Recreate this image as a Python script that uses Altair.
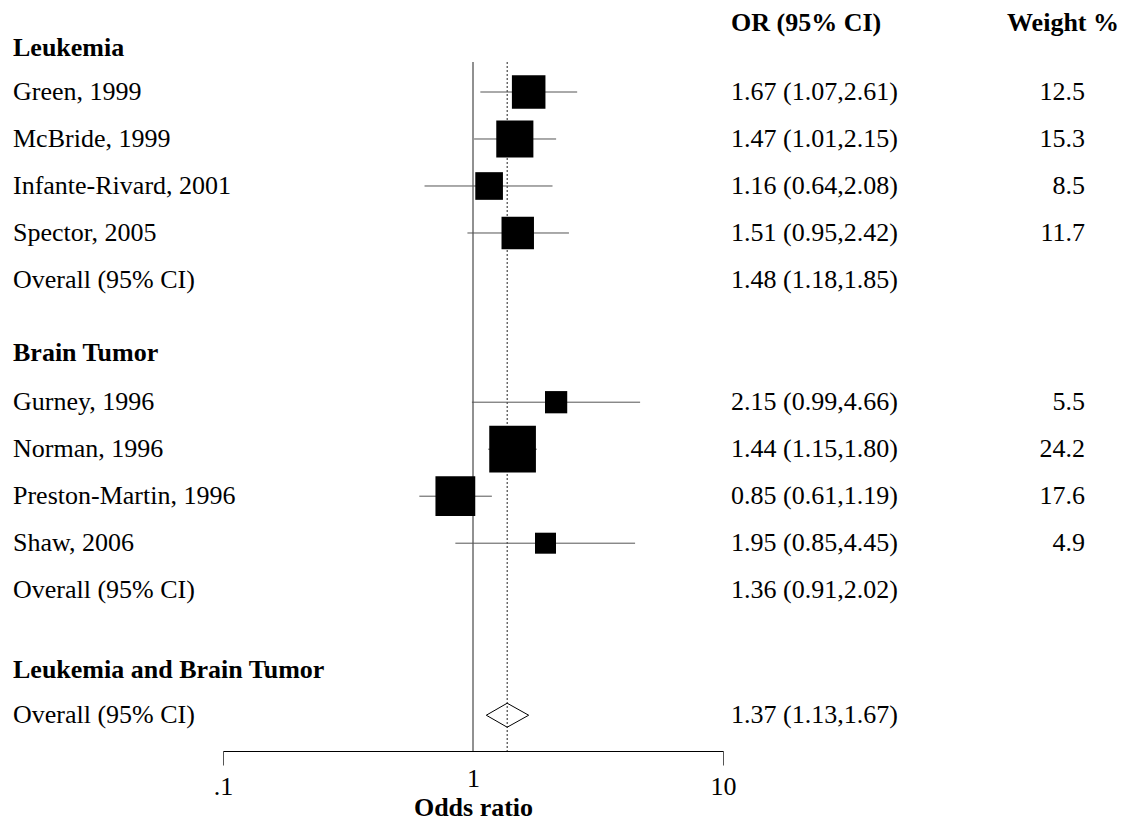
import altair as alt
import pandas as pd

# ---- data ----
studies = ["Green, 1999", "McBride, 1999", "Infante-Rivard, 2001", "Spector, 2005",
           "Gurney, 1996", "Norman, 1996", "Preston-Martin, 1996", "Shaw, 2006"]
study_rows = [1, 2, 3, 4, 7.6, 8.6, 9.6, 10.6]
or_est = [1.67, 1.47, 1.16, 1.51, 2.15, 1.44, 0.85, 1.95]
ci_lo = [1.07, 1.01, 0.64, 0.95, 0.99, 1.15, 0.61, 0.85]
ci_hi = [2.61, 2.15, 2.08, 2.42, 4.66, 1.80, 1.19, 4.45]
weights = [12.5, 15.3, 8.5, 11.7, 5.5, 24.2, 17.6, 4.9]

overall_labels = ["Overall (95% CI)", "Overall (95% CI)", "Overall (95% CI)"]
overall_rows = [5, 11.6, 14.26]
overall_est = [1.48, 1.36, 1.37]
overall_lo = [1.18, 0.91, 1.13]
overall_hi = [1.85, 2.02, 1.67]

groups = ["Leukemia", "Brain Tumor", "Leukemia and Brain Tumor"]
group_rows = [0.06, 6.55, 13.3]

tick_values = [0.1, 1, 10]
tick_labels = [".1", "1", "10"]

FONT = "Liberation Serif"
FS = 26

studies_df = pd.DataFrame({
    "label": studies, "row": study_rows, "est": or_est, "lo": ci_lo, "hi": ci_hi,
    "w": weights,
})
studies_df["ortxt"] = [f"{e:.2f} ({l:.2f},{h:.2f})" for e, l, h in zip(or_est, ci_lo, ci_hi)]
studies_df["wtxt"] = [f"{w:.1f}" for w in weights]

overall_df = pd.DataFrame({
    "label": overall_labels, "row": overall_rows, "est": overall_est,
    "lo": overall_lo, "hi": overall_hi,
})
overall_df["ortxt"] = [f"{e:.2f} ({l:.2f},{h:.2f})" for e, l, h in zip(overall_est, overall_lo, overall_hi)]

groups_df = pd.DataFrame({"label": groups, "row": group_rows})

# diamond for the pooled estimate
h = 0.255
r = overall_rows[-1]
e, l, u = overall_est[-1], overall_lo[-1], overall_hi[-1]
diamond_df = pd.DataFrame({
    "x": [l, e, u, e, l],
    "y": [r, r - h, r, r + h, r],
    "o": [0, 1, 2, 3, 4],
})

pooled_df = pd.DataFrame({"v": [overall_est[-1]]})
null_df = pd.DataFrame({"v": [1.0]})

# ---- scales / axis ----
xscale = alt.Scale(type="log", domain=[0.1, 10], nice=False)
yscale = alt.Scale(domain=[0.3617, 15.0213], reverse=True, nice=False, zero=False)

label_expr = " : ".join(
    f"datum.value == {v} ? '{t}'" for v, t in zip(tick_values[:-1], tick_labels[:-1])
) + f" : '{tick_labels[-1]}'"

xaxis = alt.Axis(
    values=tick_values,
    labelExpr=label_expr,
    grid=False,
    tickSize=14,
    tickColor="#555555",
    tickOpacity={"condition": {"test": "datum.value == 1", "value": 0}, "value": 1},
    domainColor="black",
    domainWidth=1,
    labelFont=FONT,
    labelFontSize=FS,
    labelColor="black",
    labelBaseline={"condition": {"test": "datum.value == 1", "value": "alphabetic"}, "value": "middle"},
    labelPadding=21,
    labelFlush=False,
    labelOverlap=False,
    title="Odds ratio",
    titleFont=FONT,
    titleFontSize=FS,
    titleFontWeight="bold",
    titleColor="black",
    titleX=250,
    titleY=56,
    titleBaseline="middle",
    titleAlign="center",
)

Y = lambda f: alt.Y(f, scale=yscale, axis=None)

null_line = alt.Chart(null_df).mark_rule(color="#222222", strokeWidth=1).encode(
    x=alt.X("v:Q", scale=xscale, axis=xaxis)
)
pooled_line = alt.Chart(pooled_df).mark_rule(color="#222222", strokeWidth=1, strokeDash=[2, 2]).encode(
    x=alt.X("v:Q", scale=xscale, axis=xaxis)
)
ci = alt.Chart(studies_df).mark_rule(color="#555555", strokeWidth=1).encode(
    x=alt.X("lo:Q", scale=xscale, axis=xaxis),
    x2="hi:Q",
    y=Y("row:Q"),
)
boxes = alt.Chart(studies_df).mark_square(color="black", opacity=1, filled=True).encode(
    x=alt.X("est:Q", scale=xscale, axis=xaxis),
    y=Y("row:Q"),
    size=alt.Size("w:Q", scale=alt.Scale(domain=[0, 25], range=[0, 2250]), legend=None),
)
diamond = alt.Chart(diamond_df).mark_line(color="black", strokeWidth=1).encode(
    x=alt.X("x:Q", scale=xscale, axis=xaxis),
    y=Y("y:Q"),
    order="o:Q",
)

txt = dict(font=FONT, fontSize=FS, color="black", baseline="middle")
study_txt = alt.Chart(studies_df).mark_text(align="left", **txt).encode(
    x=alt.value(-210), y=Y("row:Q"), text="label:N")
overall_txt = alt.Chart(overall_df).mark_text(align="left", **txt).encode(
    x=alt.value(-210), y=Y("row:Q"), text="label:N")
group_txt = alt.Chart(groups_df).mark_text(align="left", fontWeight="bold", **txt).encode(
    x=alt.value(-210), y=Y("row:Q"), text="label:N")
or_txt = alt.Chart(studies_df).mark_text(align="left", **txt).encode(
    x=alt.value(508), y=Y("row:Q"), text="ortxt:N")
or_overall_txt = alt.Chart(overall_df).mark_text(align="left", **txt).encode(
    x=alt.value(508), y=Y("row:Q"), text="ortxt:N")
w_txt = alt.Chart(studies_df).mark_text(align="right", **txt).encode(
    x=alt.value(862), y=Y("row:Q"), text="wtxt:N")

hdr1 = alt.Chart(pd.DataFrame({"t": ["OR (95% CI)"]})).mark_text(
    align="left", fontWeight="bold", **txt).encode(
    x=alt.value(508), y=alt.value(-39), text="t:N")
hdr2 = alt.Chart(pd.DataFrame({"t": ["Weight %"]})).mark_text(
    align="right", fontWeight="bold", **txt).encode(
    x=alt.value(896), y=alt.value(-39), text="t:N")

chart = alt.layer(
    null_line, pooled_line, ci, boxes, diamond,
    study_txt, overall_txt, group_txt, or_txt, or_overall_txt, w_txt, hdr1, hdr2,
).properties(
    width=500,
    height=689,
    autosize=alt.AutoSizeParams(type="none"),
    padding={"left": 215, "top": 54, "right": 395, "bottom": 70},
    background="white",
).configure_view(stroke=None)

chart.save("out.html", embed_options={"renderer": "svg", "actions": False})
